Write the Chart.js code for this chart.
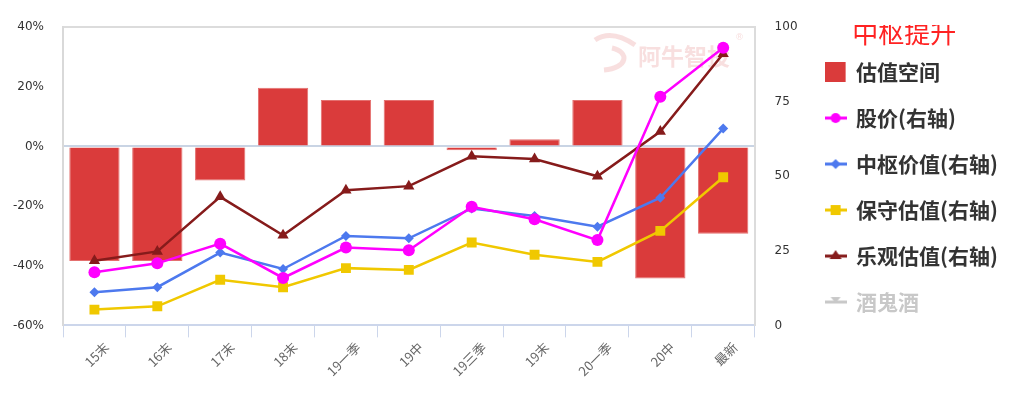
<!DOCTYPE html>
<html>
<head>
<meta charset="utf-8">
<script src="https://cdn.jsdelivr.net/npm/chart.js@4.4.1/dist/chart.umd.min.js"></script>
<style>
  html, body { margin: 0; padding: 0; background: #fff; }
  #wrap { width: 1021px; height: 393px; position: relative; }
</style>
</head>
<body>
<div id="wrap"><canvas id="c"></canvas></div>
<script>
const categories = ["15末", "16末", "17末", "18末", "19一季", "19中", "19三季", "19末", "20一季", "20中", "最新"];

// left axis, percent
const valuationSpace = [-38.4, -38.4, -11.4, 19.7, 15.6, 15.6, -1.3, 2.4, 15.6, -44.3, -29.3];

// right axis
const stockPrice = [17.8, 20.8, 27.4, 15.9, 26.1, 25.2, 39.8, 35.6, 28.6, 76.7, 93.1];
const pivotValue = [11.1, 12.8, 24.4, 18.9, 30.0, 29.2, 39.2, 36.7, 33.1, 42.8, 66.0];
const conservativeValue = [5.3, 6.4, 15.3, 12.8, 19.2, 18.6, 27.8, 23.7, 21.3, 31.7, 49.7];
const optimisticValue = [21.7, 24.8, 43.1, 30.2, 45.3, 46.7, 56.7, 55.8, 50.0, 65.0, 91.1];

const leftTicks = [40, 20, 0, -20, -40, -60];
const rightTicks = [0, 25, 50, 75, 100];

const RED = "#da3b3b";
const MAGENTA = "#ff00ff";
const BLUE = "#4d79ee";
const YELLOW = "#f0c800";
const DARKRED = "#861b1b";
const GREY = "#c8c8c8";

// small legend symbols: a line with the marker in the middle
function legendIcon(color, marker) {
  const cv = document.createElement("canvas");
  cv.width = 22; cv.height = 20;
  const g = cv.getContext("2d");
  g.fillStyle = color;
  g.strokeStyle = color;
  if (marker === "box") {
    g.fillRect(0, 0, 21, 20);
    return cv;
  }
  g.lineWidth = 3;
  g.beginPath(); g.moveTo(0, 10); g.lineTo(22, 10); g.stroke();
  g.beginPath();
  if (marker === "circle") g.arc(11, 10, 5, 0, Math.PI * 2);
  if (marker === "diamond") { g.moveTo(11, 5); g.lineTo(16, 10); g.lineTo(11, 15); g.lineTo(6, 10); }
  if (marker === "square") g.rect(6, 5, 10, 10);
  if (marker === "triangle") { g.moveTo(11, 4); g.lineTo(17, 13); g.lineTo(5, 13); }
  if (marker === "down") { g.moveTo(6, 5); g.lineTo(16, 5); g.lineTo(11, 11); }
  g.closePath();
  g.fill();
  return cv;
}

const icons = [
  legendIcon(RED, "box"),
  legendIcon(MAGENTA, "circle"),
  legendIcon(BLUE, "diamond"),
  legendIcon(YELLOW, "square"),
  legendIcon(DARKRED, "triangle"),
  legendIcon(GREY, "down")
];

const watermark = {
  id: "watermark",
  beforeDatasetsDraw(chart) {
    const ctx = chart.ctx;
    ctx.save();
    ctx.fillStyle = "rgba(232,150,150,0.3)";
    ctx.strokeStyle = "rgba(232,150,150,0.3)";
    ctx.lineWidth = 5;
    ctx.beginPath();
    ctx.moveTo(595, 40);
    ctx.bezierCurveTo(610, 30, 625, 38, 635, 45);
    ctx.stroke();
    ctx.beginPath();
    ctx.moveTo(612, 48);
    ctx.bezierCurveTo(630, 52, 628, 68, 604, 70);
    ctx.stroke();
    ctx.font = "bold 23px 'Noto Sans CJK SC'";
    ctx.textBaseline = "middle";
    ctx.fillText("阿牛智投", 638, 56);
    ctx.font = "9px 'DejaVu Sans'";
    ctx.fillText("®", 735, 38);
    ctx.restore();
  }
};

const lineStyle = (label, data, color, style, radius) => ({
  type: "line",
  label,
  data,
  yAxisID: "y1",
  borderColor: color,
  backgroundColor: color,
  borderWidth: 2.5,
  pointStyle: style,
  pointRadius: radius,
  pointHoverRadius: radius,
  pointBorderWidth: 0,
  tension: 0,
  order: 1
});

new Chart(document.getElementById("c"), {
  data: {
    labels: categories,
    datasets: [
      {
        type: "bar",
        label: "估值空间",
        data: valuationSpace,
        yAxisID: "y",
        backgroundColor: RED,
        borderColor: "#e4706f",
        borderWidth: 1,
        categoryPercentage: 1,
        barPercentage: 0.8,
        order: 5
      },
      lineStyle("股价(右轴)", stockPrice, MAGENTA, "circle", 6),
      lineStyle("中枢价值(右轴)", pivotValue, BLUE, "rectRot", 5),
      lineStyle("保守估值(右轴)", conservativeValue, YELLOW, "rect", 7),
      lineStyle("乐观估值(右轴)", optimisticValue, DARKRED, "triangle", 6.5),
      {
        type: "line",
        label: "酒鬼酒",
        data: categories.map(() => null),
        yAxisID: "y1",
        borderColor: GREY,
        backgroundColor: GREY
      }
    ]
  },
  options: {
    responsive: true,
    maintainAspectRatio: false,
    animation: false,
    layout: { padding: { top: 25, left: 12, right: 13, bottom: 12 } },
    plugins: {
      tooltip: { enabled: false },
      legend: {
        position: "right",
        align: "start",
        maxWidth: 240,
        title: {
          display: true,
          text: "中枢提升",
          color: "#ff2222",
          position: "center",
          font: { size: 26, family: "'Noto Sans CJK SC'", lineHeight: 0.62 },
          padding: { top: -5, bottom: 0.4 }
        },
        labels: {
          usePointStyle: true,
          boxWidth: 20,
          boxHeight: 21,
          padding: 25,
          color: "#333",
          font: { size: 21, weight: "bold", family: "'Noto Sans CJK SC'" },
          generateLabels(chart) {
            return chart.data.datasets.map((ds, i) => ({
              text: ds.label,
              datasetIndex: i,
              pointStyle: icons[i],
              fillStyle: ds.backgroundColor,
              strokeStyle: ds.backgroundColor,
              lineWidth: 0,
              hidden: false,
              fontColor: i === 5 ? GREY : "#333"
            }));
          }
        }
      }
    },
    scales: {
      x: {
        offset: true,
        grid: {
          offset: true,
          drawOnChartArea: false,
          drawTicks: true,
          tickLength: 12,
          color: "#ccd6eb"
        },
        border: { color: "#ccd6eb", width: 2 },
        ticks: {
          autoSkip: false,
          maxRotation: 45,
          minRotation: 45,
          labelOffset: 12,
          padding: 2,
          color: "#666",
          font: { size: 13, family: "'Noto Sans CJK SC'" }
        }
      },
      y: {
        position: "left",
        min: -60,
        max: 40,
        afterBuildTicks: (axis) => { axis.ticks = leftTicks.map((v) => ({ value: v })); },
        afterFit: (axis) => { axis.width = 51; },
        grid: {
          drawTicks: false,
          color: (c) => c.tick && c.tick.value === 0 ? "#c9d4e4" : (c.tick && c.tick.value === 40 ? "#dcdcdc" : "rgba(0,0,0,0)"),
          lineWidth: 2
        },
        border: { color: "#d9d9d9", width: 2 },
        ticks: {
          padding: 19,
          color: "#333",
          font: { size: 12, family: "'DejaVu Sans'" },
          callback: (v) => v + "%"
        }
      },
      y1: {
        position: "right",
        min: 0,
        max: 100,
        afterBuildTicks: (axis) => { axis.ticks = rightTicks.map((v) => ({ value: v })); },
        afterFit: (axis) => { axis.width = 46; },
        grid: { drawTicks: false, drawOnChartArea: false },
        border: { color: "#dcdcdc", width: 2 },
        ticks: {
          padding: 20,
          color: "#333",
          font: { size: 12, family: "'DejaVu Sans'" }
        }
      }
    }
  },
  plugins: [watermark]
});
</script>
</body>
</html>
